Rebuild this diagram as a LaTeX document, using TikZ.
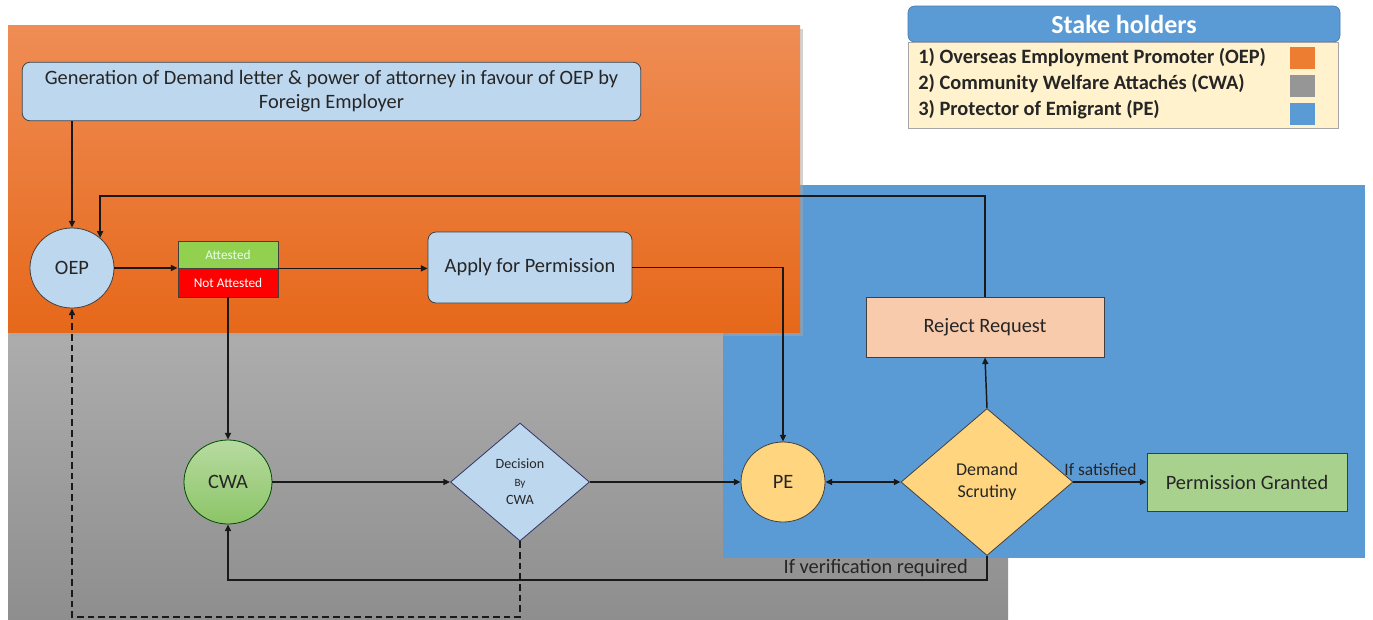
\documentclass[tikz,border=0pt]{standalone}
\usepackage{fontspec}
\setmainfont{Carlito}
\usetikzlibrary{shapes.geometric,arrows.meta,calc}
\definecolor{orTop}{HTML}{EF8D55}
\definecolor{orBot}{HTML}{E6681A}
\definecolor{grTop}{HTML}{ADADAD}
\definecolor{grBot}{HTML}{8E8E8E}
\definecolor{peBlue}{HTML}{5B9BD5}
\definecolor{ltBlue}{HTML}{BDD7EE}
\definecolor{txt}{HTML}{262626}
\definecolor{edgeC}{HTML}{404040}
\definecolor{yel}{HTML}{FFD580}
\definecolor{peach}{HTML}{F8CBAD}
\definecolor{grn}{HTML}{A9D18E}
\definecolor{grnTop}{HTML}{B7DBA0}
\definecolor{grnBot}{HTML}{8CC467}
\definecolor{attG}{HTML}{92D050}
\definecolor{cream}{HTML}{FFF2CC}
\definecolor{lgOr}{HTML}{ED7D31}
\definecolor{lgGr}{HTML}{969696}
\tikzset{
  arr/.style={draw=black!90, line width=1.1pt, -{Triangle[length=5pt,width=4.5pt]}},
  box/.style={draw=edgeC, line width=0.6pt, text=txt, align=center, inner sep=0pt},
  rbox/.style={box, rounded corners=6pt},
  ell/.style={box, ellipse},
  dia/.style={box, diamond},
  lbl/.style={text=txt, inner sep=0pt}
}
\begin{document}
\begin{tikzpicture}[x=0.75pt,y=-0.75pt]
\fill[white] (0,0) rectangle (1373,619);
\useasboundingbox (0,0) rectangle (1373,619);

% stakeholder regions
\shade[top color=grTop,bottom color=grBot] (8,332) rectangle (1008,619);
\fill[peBlue] (723,185) rectangle (1365,558);
\fill[black!35,opacity=0.5] (11,29) rectangle (803,336);
\shade[top color=orTop,bottom color=orBot] (8,25) rectangle (800,332);

% legend
\node[fill=peBlue, draw=peBlue!80!black, line width=0.5pt, rounded corners=5pt,
      minimum width=324pt, minimum height=27pt, inner sep=0pt, text=white,
      font=\bfseries\fontsize{19.5}{21}\selectfont] (lgT) at (1124,24) {Stake holders};
\node[fill=cream, draw=black!35, line width=0.5pt, minimum width=322.5pt,
      minimum height=64.5pt, inner sep=0pt] (lgB) at (1123,85) {};
\begin{scope}[every node/.style={lbl, anchor=west, font=\bfseries\fontsize{15.3}{17}\selectfont}]
\node (lg1) at (918,58) {1) Overseas Employment Promoter (OEP)};
\node (lg2) at (918,84) {2) Community Welfare Attachés (CWA)};
\node (lg3) at (918,110) {3) Protector of Emigrant (PE)};
\end{scope}
\node[fill=lgOr, minimum width=18.75pt, minimum height=16.5pt, inner sep=0pt] (sq1) at (1302.5,58) {};
\node[fill=lgGr, minimum width=18.75pt, minimum height=16.5pt, inner sep=0pt] (sq2) at (1302.5,86) {};
\node[fill=peBlue, minimum width=18.75pt, minimum height=16.5pt, inner sep=0pt] (sq3) at (1302.5,114) {};

% nodes
\node[rbox, fill=ltBlue, minimum width=464pt, minimum height=44pt,
      font=\fontsize{15.3}{18}\selectfont] (gen) at (331.5,91.5)
  {Generation of Demand letter \& power of attorney in favour of OEP by\\Foreign Employer};
\node[ell, fill=ltBlue, minimum width=63pt, minimum height=60pt,
      font=\fontsize{15.3}{17}\selectfont] (oep) at (72,268) {OEP};
\node[box, fill=attG, minimum width=75pt, minimum height=20.25pt, text=white!90!green,
      font=\fontsize{10}{11}\selectfont] (att) at (228,254.5) {Attested};
\node[box, fill=red, minimum width=75pt, minimum height=21.75pt, text=white,
      font=\fontsize{10}{11}\selectfont] (natt) at (228,282.5) {Not Attested};
\node[rbox, fill=ltBlue, minimum width=153pt, minimum height=53.25pt,
      font=\fontsize{15.3}{17}\selectfont] (apply) at (530,267.5) {Apply for Permission};
\node[box, fill=peach, minimum width=178.5pt, minimum height=45pt,
      font=\fontsize{15.3}{17}\selectfont] (rej) at (985,327) {Reject Request};
\node[ell, shade, top color=grnTop, bottom color=grnBot, draw=black!70!green,
      minimum width=66pt, minimum height=63pt,
      font=\fontsize{15.3}{17}\selectfont] (cwa) at (228,482) {CWA};
\node[dia, fill=ltBlue, draw=edgeC!80!blue, minimum width=104.25pt, minimum height=88.5pt,
      font=\fontsize{10.6}{13.5}\selectfont] (dec) at (520,482)
  {Decision\\{\fontsize{8.3}{10}\selectfont By}\\CWA};
\node[ell, fill=yel, minimum width=63pt, minimum height=60pt,
      font=\fontsize{15.3}{17}\selectfont] (pe) at (783,482) {PE};
\node[dia, fill=yel, minimum width=129pt, minimum height=110.25pt,
      font=\fontsize{13.5}{16.5}\selectfont] (scr) at (987,482) {Demand\\Scrutiny};
\node[box, fill=grn, draw=black!60!green, minimum width=150pt, minimum height=43.5pt,
      font=\fontsize{15.3}{17}\selectfont] (grant) at (1247,482) {Permission Granted};

% connectors
\coordinate (loopY) at (0,196);
\coordinate (vbot) at (987,580);
\coordinate (dbot) at (520,617);
\draw[arr] (gen.south -| oep.north) -- (oep.north);
\draw[arr] (rej.north) -- (rej.north |- loopY) -| (oep.47);
\draw[arr] (oep.east) -- (oep.east -| att.south west);
\draw[arr] (att.south east) -- (apply.west |- att.south east);
\draw[arr] (apply.east) -| (pe.north);
\draw[arr] (natt.south) -- (cwa.north);
\draw[arr] (cwa.east) -- (dec.west);
\draw[arr] (dec.east) -- (pe.west);
\draw[arr, {Triangle[length=5pt,width=4.5pt]}-{Triangle[length=5pt,width=4.5pt]}] (pe.east) -- (scr.west);
\draw[arr] (scr.east) -- (grant.west)
  node[lbl, pos=0.37, above=4pt, font=\fontsize{13.1}{15}\selectfont] (lsat) {If satisfied};
\draw[arr] (scr.north) -- (rej.south);
\draw[arr] (scr.south) -- (vbot) -| (cwa.south);
\node[lbl, anchor=south east, font=\fontsize{15.3}{17}\selectfont] (lver) at (968,577) {If verification required};
\draw[arr, dashed, dash pattern=on 5pt off 3pt, line width=0.9pt] (dec.south) -- (dbot) -| (oep.south);
\end{tikzpicture}
\end{document}
